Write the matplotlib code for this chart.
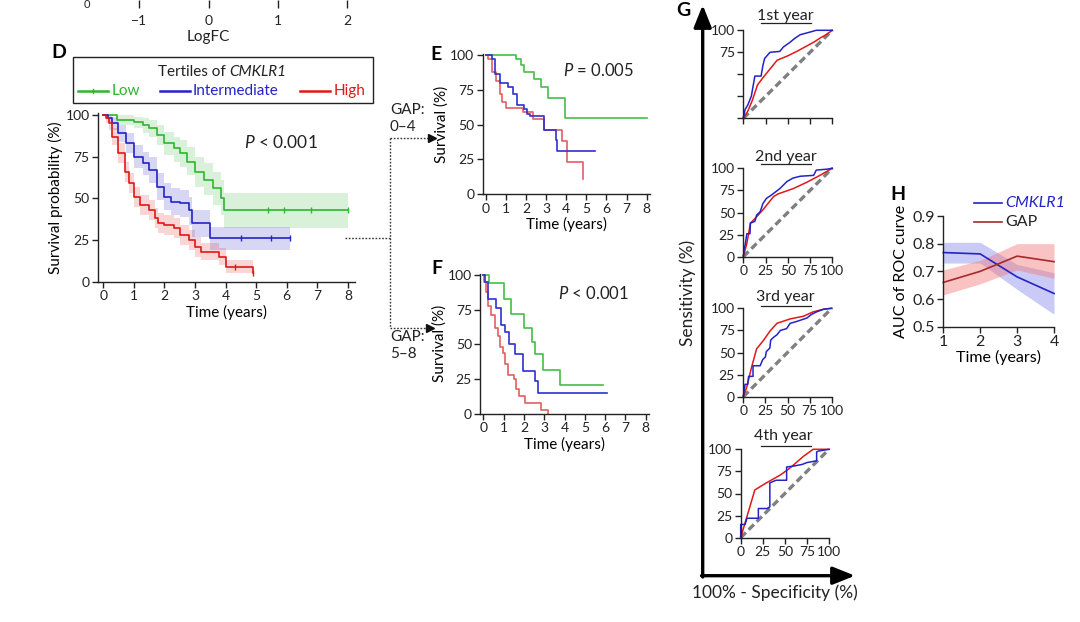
import numpy as np
import matplotlib.pyplot as plt
from matplotlib.lines import Line2D
from matplotlib.patches import Rectangle, FancyArrowPatch

# ---- data -------------------------------------------------------------
logfc_ticks = [-1, 0, 1, 2]

# D: KM by tertiles of CMKLR1 (whole cohort)
d_low_t = [0, 0.45, 1.0, 1.3, 1.5, 1.75, 2.0, 2.3, 2.5, 2.75, 3.0, 3.3, 3.6, 3.85, 3.95]
d_low_s = [100, 97, 96, 94, 92, 88, 83, 80, 77, 72, 66, 61, 56, 50, 43]
d_low_lo = [100, 94, 92, 89, 87, 82, 76, 72, 69, 64, 57, 52, 46, 40, 32]
d_low_hi = [100, 100, 99, 98, 97, 94, 90, 87, 85, 81, 75, 71, 66, 61, 53]
d_low_end = 8.0
d_low_cens = [5.4, 5.9, 6.8, 8.0]

d_mid_t = [0, 0.15, 0.3, 0.5, 0.75, 1.0, 1.3, 1.5, 1.75, 2.0, 2.2, 2.5, 2.8, 2.9, 3.5]
d_mid_s = [100, 98, 95, 89, 83, 75, 71, 67, 57, 51, 48, 47, 43, 35, 26]
d_mid_lo = [100, 96, 91, 84, 77, 68, 64, 59, 49, 43, 40, 39, 34, 27, 19]
d_mid_hi = [100, 100, 99, 94, 89, 82, 78, 75, 65, 59, 56, 55, 51, 43, 33]
d_mid_end = 6.1
d_mid_cens = [4.5, 5.5, 6.1]

d_high_t = [0, 0.1, 0.2, 0.3, 0.5, 0.7, 0.85, 1.0, 1.2, 1.5, 1.7, 1.8, 2.0, 2.3, 2.5,
            2.8, 3.0, 3.2, 3.8, 4.0, 4.9]
d_high_s = [100, 98, 95, 87, 77, 66, 59, 51, 46, 43, 38, 35, 34, 32, 28, 25, 21, 18, 15, 9, 5]
d_high_lo = [100, 95, 91, 82, 71, 60, 53, 45, 40, 37, 32, 29, 28, 26, 22, 19, 15, 13, 10, 5, 5]
d_high_hi = [100, 100, 99, 92, 83, 72, 65, 57, 52, 49, 44, 41, 40, 38, 34, 31, 27, 23, 20, 13, 5]
d_high_end = 4.9
d_high_cens = [4.3, 4.9]

# E: GAP 0-4
e_low_t = [0, 1.5, 1.75, 1.9, 2.4, 2.75, 3.1, 3.95]
e_low_s = [100, 97, 93, 88, 83, 77, 69, 55]
e_low_end = 8.0
e_mid_t = [0, 0.3, 0.45, 0.7, 1.1, 1.35, 1.55, 1.9, 2.05, 2.2, 2.9, 3.5, 3.55]
e_mid_s = [100, 97, 86, 80, 77, 72, 64, 61, 58, 56, 46, 39, 31]
e_mid_end = 5.45
e_high_t = [0, 0.1, 0.3, 0.5, 0.7, 0.8, 1.0, 1.85, 2.35, 2.9, 3.8, 4.05, 4.85]
e_high_s = [100, 97, 88, 81, 72, 66, 62, 59, 54, 46, 38, 23, 11]
e_high_end = 4.85

# F: GAP 5-8
f_low_t = [0, 0.3, 1.0, 1.35, 2.0, 2.4, 2.55, 2.95, 3.8]
f_low_s = [100, 94, 83, 72, 62, 52, 43, 32, 21]
f_low_end = 5.9
f_mid_t = [0, 0.1, 0.25, 0.6, 0.85, 1.05, 1.25, 1.55, 1.95, 2.55, 2.7]
f_mid_s = [100, 95, 83, 76, 64, 59, 50, 43, 31, 24, 15]
f_mid_end = 6.1
f_high_t = [0, 0.05, 0.15, 0.25, 0.4, 0.55, 0.7, 0.8, 0.95, 1.05, 1.2, 1.5, 1.6,
            1.75, 2.05, 2.85, 3.2]
f_high_s = [100, 95, 88, 78, 71, 62, 56, 48, 44, 36, 28, 25, 18, 13, 8, 3, 0]
f_high_end = 3.2

# G: ROC curves (100 - specificity, sensitivity)
roc1_blue_x = [0, 2, 5, 9, 13, 20, 22, 24, 30, 41, 45, 52, 58, 64, 75, 82, 100]
roc1_blue_y = [0, 10, 15, 25, 48, 48, 60, 68, 75, 76, 81, 86, 91, 95, 98, 100, 100]
roc1_red_x = [0, 5, 10, 16, 22, 30, 38, 50, 60, 71, 80, 86, 93, 100]
roc1_red_y = [0, 8, 20, 38, 46, 56, 66, 71, 76, 82, 87, 91, 95, 100]

roc2_blue_x = [0, 1, 2, 4, 7.5, 8, 13, 15, 19, 22, 26, 32, 41, 49, 56, 64, 79, 82, 94, 100]
roc2_blue_y = [0, 9, 13, 26, 26, 38, 40, 47, 51, 60, 66, 70, 77, 85, 89, 91, 92, 98, 99, 100]
roc2_red_x = [0, 4, 8, 13, 22, 34, 39, 56, 71, 86, 100]
roc2_red_y = [0, 15, 38, 43, 53, 68, 71, 77, 84, 92, 100]

roc3_blue_x = [0, 2, 5, 6, 11, 11, 19, 22, 25, 26, 30, 31, 34, 38, 42, 49, 53, 60,
               72, 77, 83, 91, 100]
roc3_blue_y = [0, 14, 14, 23, 23, 35, 35, 42, 45, 51, 55, 64, 67, 70, 75, 77, 83, 85,
               89, 93, 96, 99, 100]
roc3_red_x = [0, 4, 9, 15, 23, 30, 38, 53, 68, 79, 91, 100]
roc3_red_y = [0, 11, 32, 54, 64, 74, 83, 88, 91, 96, 99, 100]

roc4_blue_x = [0, 0, 5, 7, 20, 20, 30, 33, 33, 40, 52, 52, 60, 70, 75, 86, 86, 88, 100]
roc4_blue_y = [0, 15, 15, 22, 22, 33, 33, 35, 62, 65, 65, 80, 81, 83, 85, 87, 97, 98, 100]
roc4_red_x = [0, 16, 29, 45, 56, 71, 82, 100]
roc4_red_y = [0, 54, 62, 71, 79, 92, 100, 100]

roc_titles = ['1st year', '2nd year', '3rd year', '4th year']

# H: AUC over time
years = [1, 2, 3, 4]
cmklr1_auc = [0.768, 0.763, 0.68, 0.62]
cmklr1_lo = [0.73, 0.73, 0.635, 0.545]
cmklr1_hi = [0.805, 0.805, 0.725, 0.695]
gap_auc = [0.66, 0.70, 0.755, 0.735]
gap_lo = [0.615, 0.655, 0.705, 0.675]
gap_hi = [0.705, 0.74, 0.80, 0.80]

# ---- style ------------------------------------------------------------
plt.rcParams['font.family'] = ['Lato', 'DejaVu Sans']
plt.rcParams['mathtext.fontset'] = 'custom'
plt.rcParams['mathtext.rm'] = 'Lato'
plt.rcParams['mathtext.it'] = 'Lato:italic'
plt.rcParams['mathtext.bf'] = 'Lato:bold'
plt.rcParams['font.size'] = 10
plt.rcParams['axes.linewidth'] = 1.0
plt.rcParams['text.color'] = '#222222'

GREEN = '#2fb52f'
BLUE = '#2323c8'
RED = '#e01818'
E_GREEN = '#44bf44'
E_BLUE = '#3030d0'
E_RED = '#e26060'
INK = '#222222'
TICK = 10
LAB = 11

W, H = 1080, 622
fig = plt.figure(figsize=(W / 100, H / 100), dpi=100)


def add_px(left, top, right, bottom):
    return fig.add_axes([left / W, 1 - bottom / H, (right - left) / W, (bottom - top) / H])


def ftext(x, y, s, **kw):
    kw.setdefault('ha', 'center')
    kw.setdefault('va', 'center')
    return fig.text(x / W, 1 - y / H, s, **kw)


def fline(xs, ys, **kw):
    fig.add_artist(Line2D([x / W for x in xs], [1 - y / H for y in ys], **kw))


def style_axes(ax, ticksize=TICK):
    for side in ['top', 'right']:
        ax.spines[side].set_visible(False)
    for side in ['left', 'bottom']:
        ax.spines[side].set_color(INK)
    ax.tick_params(length=4, width=1, color=INK, labelsize=ticksize, labelcolor=INK, pad=2)


def km_step(ax, t, s, t_end, color, lw=1.2, lo=None, hi=None, band_alpha=0.18):
    tt = list(t) + [t_end]
    ss = list(s) + [s[-1]]
    if lo is not None:
        ax.fill_between(tt, list(lo) + [lo[-1]], list(hi) + [hi[-1]], step='post',
                        color=color, alpha=band_alpha, lw=0)
    ax.step(tt, ss, where='post', color=color, lw=lw)


def step_value(t, s, x):
    idx = 0
    for i, ti in enumerate(t):
        if ti <= x:
            idx = i
    return s[idx]


# ---- top strip: remains of previous panel ------------------------------
axt = add_px(139.3, -40, 347.3, 8.3)
axt.set_xlim(-1, 2)
axt.set_xticks(logfc_ticks)
axt.set_xticklabels(['\u22121', '0', '1', '2'])
axt.set_yticks([])
for sp in axt.spines.values():
    sp.set_visible(False)
axt.patch.set_visible(False)
axt.tick_params(axis='x', direction='in', length=6, width=1, color=INK, pad=5,
                labelsize=TICK, labelcolor=INK)
axt.xaxis.get_major_ticks()[1].tick1line.set_color('#999999')
ftext(208, 37.5, 'LogFC', fontsize=LAB)
ftext(87, 5, '0', fontsize=8)

# ---- D ----------------------------------------------------------------
ftext(59, 52, 'D', fontsize=14, fontweight='bold', color='black')
fig.add_artist(Rectangle((73.3 / W, 1 - 103.3 / H), 300 / W, 46.6 / H,
                         transform=fig.transFigure, fill=False, ec=INK, lw=1.0))
ftext(226, 71.5, 'Tertiles of', ha='right', fontsize=11)
ftext(229, 71.5, 'CMKLR1', ha='left', fontsize=11, style='italic')
legend_items = [(78, 108, 111.5, 'Low', GREEN), (160, 190, 193, 'Intermediate', BLUE),
                (300, 330, 334, 'High', RED)]
for x0, x1, xt, lab, col in legend_items:
    fline([x0, x1], [91, 91], color=col, lw=1.8)
    ftext(xt, 91, lab, ha='left', fontsize=11, color=col)
fline([93, 93], [89, 93], color=GREEN, lw=1.0)

axd = add_px(98, 113.3, 355, 281.7)
style_axes(axd)
axd.set_xlim(-0.17, 8.23)
axd.set_ylim(0, 101)
axd.set_xticks(range(0, 9))
axd.set_yticks([0, 25, 50, 75, 100])
km_step(axd, d_low_t, d_low_s, d_low_end, GREEN, lo=d_low_lo, hi=d_low_hi)
km_step(axd, d_mid_t, d_mid_s, d_mid_end, BLUE, lo=d_mid_lo, hi=d_mid_hi)
km_step(axd, d_high_t, d_high_s, d_high_end, RED, lo=d_high_lo, hi=d_high_hi)
for t, s, cens, col in [(d_low_t, d_low_s, d_low_cens, GREEN),
                        (d_mid_t, d_mid_s, d_mid_cens, BLUE),
                        (d_high_t, d_high_s, d_high_cens, RED)]:
    axd.plot(cens, [step_value(t, s, c) for c in cens], ls='none', marker='|',
             ms=4, mew=1.0, color=col)
axd.set_ylabel('Survival probability (%)', fontsize=LAB, labelpad=2)
axd.set_xlabel('Time (years)', fontsize=LAB, labelpad=2)
ftext(281, 143, r'$\mathit{P}$ < 0.001', fontsize=12.5)

# ---- connectors -------------------------------------------------------
dot = dict(color='#333333', lw=1.0, ls=(0, (1.2, 1.2)))
fline([345, 390], [237.7, 237.7], **dot)
fline([390, 390], [138, 328], **dot)
fline([390, 431], [138, 138], **dot)
fline([390, 429], [328, 328], **dot)
fline([432], [138], marker='>', ms=6, color='#111111', ls='none')
fline([430], [328], marker='>', ms=6, color='#111111', ls='none')
ftext(390, 110, 'GAP:', ha='left', fontsize=LAB)
ftext(390, 127, '0\u20134', ha='left', fontsize=LAB)
ftext(390, 337, 'GAP:', ha='left', fontsize=LAB)
ftext(390, 354, '5\u20138', ha='left', fontsize=LAB)

# ---- E & F ------------------------------------------------------------
def km_panel(box, groups, letter, letter_xy, ptxt, p_xy):
    ax = add_px(*box)
    style_axes(ax)
    ax.set_xlim(-0.15, 8.15)
    ax.set_ylim(0, 101)
    ax.set_xticks(range(0, 9))
    ax.set_yticks([0, 25, 50, 75, 100])
    for t, s, end, col in groups:
        km_step(ax, t, s, end, col, lw=1.2)
    ax.set_ylabel('Survival (%)', fontsize=LAB, labelpad=1)
    ax.set_xlabel('Time (years)', fontsize=LAB, labelpad=2)
    ftext(*letter_xy, letter, fontsize=14, fontweight='bold', color='black')
    ftext(*p_xy, ptxt, fontsize=12)
    return ax


km_panel((482.7, 53.6, 649.7, 194.3),
         [(e_low_t, e_low_s, e_low_end, E_GREEN),
          (e_high_t, e_high_s, e_high_end, E_RED),
          (e_mid_t, e_mid_s, e_mid_end, E_BLUE)],
         'E', (436, 55), r'$\mathit{P}$ = 0.005', (598, 71))
km_panel((480.3, 273.6, 648.7, 414),
         [(f_low_t, f_low_s, f_low_end, E_GREEN),
          (f_high_t, f_high_s, f_high_end, E_RED),
          (f_mid_t, f_mid_s, f_mid_end, E_BLUE)],
         'F', (437, 268), r'$\mathit{P}$ < 0.001', (593, 294))

# ---- G ----------------------------------------------------------------
ftext(683, 11, 'G', fontsize=14, fontweight='bold', color='black')
arrow_kw = dict(transform=fig.transFigure, arrowstyle='-|>,head_length=0.75,head_width=0.3',
                mutation_scale=18, lw=2.4, color='black', shrinkA=0, shrinkB=0)
fig.add_artist(FancyArrowPatch((702.7 / W, 1 - 577 / H), (702.7 / W, 1 - 5 / H), **arrow_kw))
fig.add_artist(FancyArrowPatch((701.5 / W, 1 - 575.7 / H), (855 / W, 1 - 575.7 / H), **arrow_kw))
ftext(688, 293, 'Sensitivity (%)', rotation=90, fontsize=12.5)
ftext(775, 593, '100% - Specificity (%)', fontsize=12.5)

roc_boxes = [(743.3, 30.3, 832.3, 118.3), (743.3, 168.3, 832.3, 256.7),
             (743.3, 308.3, 831.7, 396.7), (740.7, 449.3, 829, 537.7)]
roc_title_y = [16, 157, 297, 436]
roc_line_y = [23.3, 164, 305.5, 445.7]
roc_data = [(roc1_blue_x, roc1_blue_y, roc1_red_x, roc1_red_y),
            (roc2_blue_x, roc2_blue_y, roc2_red_x, roc2_red_y),
            (roc3_blue_x, roc3_blue_y, roc3_red_x, roc3_red_y),
            (roc4_blue_x, roc4_blue_y, roc4_red_x, roc4_red_y)]
for i, box in enumerate(roc_boxes):
    ax = add_px(*box)
    style_axes(ax)
    ax.set_xlim(0, 100)
    ax.set_ylim(0, 100)
    ax.set_xticks([0, 25, 50, 75, 100])
    ax.set_yticks([0, 25, 50, 75, 100])
    bx, by, rx, ry = roc_data[i]
    ax.plot([0, 100], [0, 100], color='#808080', lw=2.4, ls=(0, (2.2, 1.2)), clip_on=False)
    ax.plot(rx, ry, color=RED, lw=1.1, clip_on=False)
    ax.plot(bx, by, color=BLUE, lw=1.1, clip_on=False)
    if i == 0:
        ax.set_yticklabels(['', '', '', '75', '100'])
        ax.set_xticklabels([])
    ftext((box[0] + box[2]) / 2 - 2, roc_title_y[i], roc_titles[i], fontsize=11.5)
    fline([761, 811], [roc_line_y[i], roc_line_y[i]], color=INK, lw=0.9)

# ---- H ----------------------------------------------------------------
ftext(898, 194, 'H', fontsize=14, fontweight='bold', color='black')
axh = add_px(943.3, 216, 1054, 326.7)
style_axes(axh, ticksize=11.5)
axh.set_xlim(1, 4)
axh.set_ylim(0.5, 0.9)
axh.set_xticks(years)
axh.set_yticks([0.5, 0.6, 0.7, 0.8, 0.9])
axh.fill_between(years, cmklr1_lo, cmklr1_hi, color='#7b7bea', alpha=0.4, lw=0)
axh.fill_between(years, gap_lo, gap_hi, color='#f27a7a', alpha=0.45, lw=0)
axh.plot(years, cmklr1_auc, color=BLUE, lw=1.2, clip_on=False)
axh.plot(years, gap_auc, color='#a52a2a', lw=1.2, clip_on=False)
axh.set_ylabel('AUC of ROC curve', fontsize=11.5, labelpad=3)
axh.set_xlabel('Time (years)', fontsize=11.5, labelpad=1)
fline([974, 1001.5], [202.7, 202.7], color=BLUE, lw=1.2)
fline([974, 1001.5], [221.7, 221.7], color='#a52a2a', lw=1.2)
ftext(1005, 202.7, 'CMKLR1', ha='left', fontsize=11.5, style='italic', color=BLUE)
ftext(1005, 221.7, 'GAP', ha='left', fontsize=11.5)

fig.savefig('out.png', dpi=100)
